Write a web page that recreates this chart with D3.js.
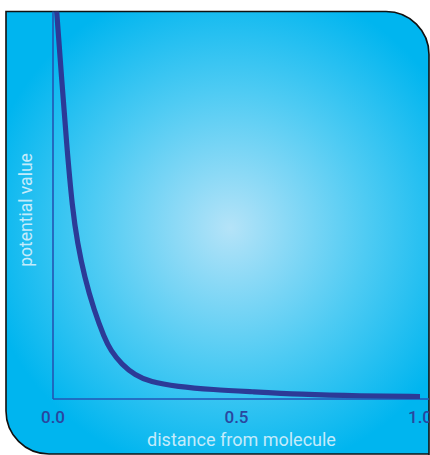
<!DOCTYPE html>
<html><head><meta charset="utf-8">
<script src="https://cdn.jsdelivr.net/npm/d3@7"></script>
<style>html,body{margin:0;padding:0;background:#fff;}svg{display:block;}</style>
</head><body>
<script>
// Data
const distance = [0.0054, 0.0104, 0.0232, 0.0368, 0.0531, 0.0668, 0.0858, 0.1117, 0.1403, 0.1567, 0.188, 0.2234, 0.2643, 0.3379, 0.437, 0.537, 0.673, 0.837, 1.0];
const potential = [10.6, 9.94, 8.30, 6.60, 4.87, 4.02, 3.14, 2.29, 1.57, 1.26, 0.88, 0.62, 0.44, 0.32, 0.24, 0.19, 0.12, 0.08, 0.064];
const xTicks = [0.0, 0.5, 1.0];
const xTickLabels = ["0.0", "0.5", "1.0"];
const xTitle = "distance from molecule";
const yTitle = "potential value";

const W = 430, H = 455;
const svg = d3.select("body").append("svg").attr("width", W).attr("height", H);
const defs = svg.append("defs");
const grad = defs.append("radialGradient").attr("id", "bg")
  .attr("gradientUnits", "userSpaceOnUse")
  .attr("cx", 230).attr("cy", 228).attr("r", 250);
grad.append("stop").attr("offset", "0%").attr("stop-color", "#b4e3f8");
grad.append("stop").attr("offset", "55%").attr("stop-color", "#4ecbf3");
grad.append("stop").attr("offset", "100%").attr("stop-color", "#00b5ef");

// Box: square top-left, rounded top-right and bottom-left
const L = 6, T = 11.5, R = 429, B = 454, r = 43;
const boxPath = `M${L},${T} L${R - r},${T} A${r},${r} 0 0 1 ${R},${T + r} L${R},${B} L${L + r},${B} A${r},${r} 0 0 1 ${L},${B - r} Z`;
defs.append("clipPath").attr("id", "clip").append("path").attr("d", boxPath);
svg.append("path").attr("d", boxPath).attr("fill", "url(#bg)");
svg.append("path")
  .attr("d", `M${L},${B - r} L${L},${T} L${R - r},${T} A${r},${r} 0 0 1 ${R},${T + r} L${R},${H + 5}`)
  .attr("fill", "none").attr("stroke", "#111").attr("stroke-width", 1.6);
svg.append("path")
  .attr("d", `M${L},${B - r} A${r},${r} 0 0 0 ${L + r},${B} L${R},${B}`)
  .attr("fill", "none").attr("stroke", "#111").attr("stroke-width", 1.6);

const x0 = 53, x1 = 420, yBottom = 399, yTop = 11;
const x = d3.scaleLinear().domain([0, 1]).range([x0, x1]);
const y = d3.scaleLinear().domain([0, 10]).range([yBottom, yTop]);

const g = svg.append("g").attr("clip-path", "url(#clip)");

// axes lines
g.append("line").attr("x1", x0).attr("x2", x0).attr("y1", yTop).attr("y2", yBottom)
  .attr("stroke", "#2356b4").attr("stroke-width", 1.6);
g.append("line").attr("x1", x0).attr("x2", W).attr("y1", yBottom).attr("y2", yBottom)
  .attr("stroke", "#2356b4").attr("stroke-width", 1.6);

// curve
const data = distance.map((d, i) => [d, potential[i]]);
g.append("path").datum(data)
  .attr("d", d3.line().x(d => x(d[0])).y(d => y(d[1])).curve(d3.curveBasis))
  .attr("fill", "none").attr("stroke", "#2c3a97").attr("stroke-width", 5.2)
  .attr("stroke-linecap", "butt");

// tick labels
g.selectAll("text.tick").data(xTicks).enter().append("text")
  .attr("class", "tick")
  .attr("x", d => x(d)).attr("y", 423)
  .attr("text-anchor", "middle")
  .attr("font-family", "Roboto, sans-serif").attr("font-size", 17).attr("font-weight", 500)
  .attr("fill", "#2a46a0")
  .text((d, i) => xTickLabels[i]);

// axis titles
g.append("text").attr("x", (x0 + W) / 2).attr("y", 446)
  .attr("text-anchor", "middle")
  .attr("font-family", "Roboto, sans-serif").attr("font-size", 18)
  .attr("fill", "#c4ebfb").text(xTitle);
g.append("text")
  .attr("transform", `translate(32,${(yTop + yBottom) / 2 + 5}) rotate(-90)`)
  .attr("text-anchor", "middle")
  .attr("font-family", "Roboto, sans-serif").attr("font-size", 17.5)
  .attr("fill", "#c4ebfb").text(yTitle);
</script>
</body></html>
